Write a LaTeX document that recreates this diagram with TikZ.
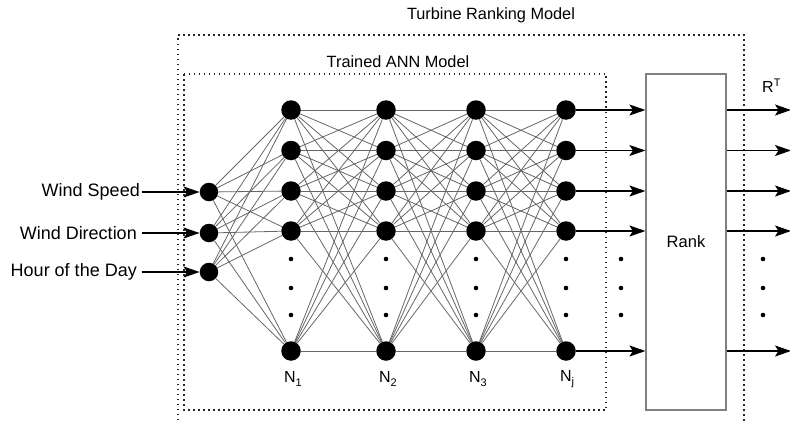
\documentclass[tikz,border=0pt]{standalone}
\usepackage{fontspec}
\setmainfont{Liberation Sans}
\usetikzlibrary{arrows.meta}
\begin{document}
\begin{tikzpicture}[x=1pt,y=-1pt,
  neuron/.style={circle,fill=black,inner sep=0pt,minimum size=19.5pt},
  inneuron/.style={circle,fill=black,inner sep=0pt,minimum size=18.5pt},
  smalldot/.style={circle,fill=black,inner sep=0pt,minimum size=4.6pt},
  link/.style={draw=black!60,line width=0.8pt},
  arr/.style={draw=black,line width=1.1pt,-{Stealth[length=16pt,width=11pt,inset=3.5pt]}},
  frame/.style={draw=black!85,line width=1.5pt,dash pattern=on 1.5pt off 3.5pt},
  lbl/.style={inner sep=0pt,font=\fontsize{18}{20}\selectfont},
  ttl/.style={inner sep=0pt,font=\fontsize{16.3}{18}\selectfont},
  nlbl/.style={inner sep=0pt,font=\fontsize{16}{18}\selectfont}]
\useasboundingbox (0,0) rectangle (790,423);
\clip (0,0) rectangle (790,423);

% frames
\draw[frame] (178,440) -- (178,35) -- (744,35) -- (744,440);
\draw[frame] (184,74) rectangle (606,410);
\node[ttl] (title) at (491,15) {Turbine Ranking Model};
\node[ttl] (annttl) at (398,62) {Trained ANN Model};

% rank block
\node[draw=black!50,line width=1.2pt,minimum width=80pt,minimum height=336pt,inner sep=0pt,
      font=\fontsize{16.5}{18}\selectfont] (rank) at (686,242) {Rank};

% input neurons
\node[inneuron] (i1) at (209,192) {};
\node[inneuron] (i2) at (209,233) {};
\node[inneuron] (i3) at (209,272) {};

% hidden layers: columns 1..4, rows 1..5
\foreach \c/\x in {1/291,2/386,3/476,4/566}{
  \foreach \r/\y in {1/110,2/150.5,3/191,4/231,5/351}{
    \node[neuron] (h\c\r) at (\x,\y) {};
  }
  \foreach \k/\y in {1/259,2/288,3/315}{
    \node[smalldot] (d\c\k) at (\x,\y) {};
  }
}

% connections input -> first layer
\foreach \i in {1,2,3}{
  \foreach \r in {1,...,5}{
    \draw[link] (i\i) -- (h1\r);
  }
}
% connections between hidden layers
\foreach \c/\n in {1/2,2/3,3/4}{
  \foreach \r in {1,...,5}{
    \foreach \s in {1,...,5}{
      \draw[link] (h\c\r) -- (h\n\s);
    }
  }
}

% input labels and arrows
\node[lbl,anchor=east] (w1) at (140,192) {Wind Speed};
\node[lbl,anchor=east] (w2) at (137,233) {Wind Direction};
\node[lbl,anchor=east] (w3) at (137,272) {Hour of the Day};
\draw[arr] (w1.east) ++(1.5,0) -- (i1);
\draw[arr] (w2.east) ++(4.5,0) -- (i2);
\draw[arr] (w3.east) ++(4.5,0) -- (i3);

% outputs of the last layer into the ranking block
\foreach \r/\y in {1/110,2/150.5,3/191,4/231,5/351}{
  \draw[arr] (h4\r) -- (h4\r -| rank.west);
  \coordinate (o\r) at (791,\y);
  \draw[arr] (h4\r -| rank.east) -- (o\r);
}

% ellipsis dots beside the ranking block
\foreach \k/\y in {1/259,2/288,3/315}{
  \node[smalldot] (e\k) at (621,\y) {};
  \node[smalldot] (f\k) at (763,\y) {};
}

% layer labels
\node[nlbl] (n1) at (293,379) {N\raisebox{-0.45ex}{\fontsize{11}{11}\selectfont 1}};
\node[nlbl] (n2) at (388,379) {N\raisebox{-0.45ex}{\fontsize{11}{11}\selectfont 2}};
\node[nlbl] (n3) at (478,379) {N\raisebox{-0.45ex}{\fontsize{11}{11}\selectfont 3}};
\node[nlbl] (n4) at (567,379) {N\raisebox{-0.45ex}{\fontsize{11}{11}\selectfont j}};
\node[nlbl,anchor=west] (rt) at (762,86) {R\raisebox{0.75ex}{\fontsize{11}{11}\selectfont T}};
\end{tikzpicture}
\end{document}
